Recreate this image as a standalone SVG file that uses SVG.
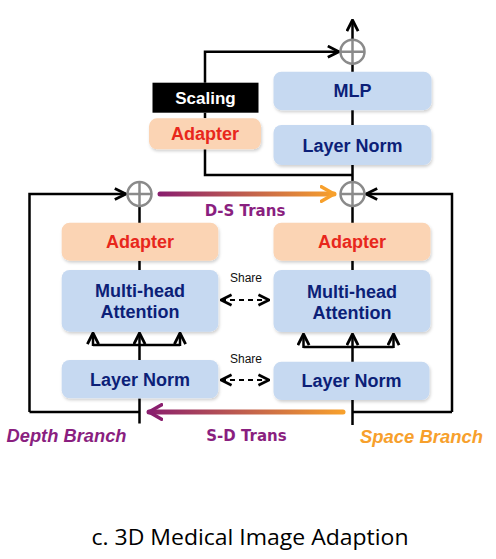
<svg xmlns="http://www.w3.org/2000/svg" width="496" height="559" viewBox="0 0 496 559">
<defs>
<style>
.ln{fill:none;stroke:#000;stroke-width:2.5}
.blue{fill:#c6d9f1}
.peach{fill:#fbd4b4}
.bt{font-family:"Liberation Sans",Arial,sans-serif;font-weight:bold;font-size:18px;fill:#0c1f78;text-anchor:middle}
.rt{font-family:"Liberation Sans",Arial,sans-serif;font-weight:bold;font-size:18px;fill:#e8271c;text-anchor:middle}
.sh{font-family:"Liberation Sans",Arial,sans-serif;font-size:12px;fill:#111;text-anchor:middle}
.tr{font-family:"DejaVu Sans",sans-serif;font-weight:bold;font-size:15px;fill:#8a1f80;text-anchor:middle}
.br{font-family:"Liberation Sans",Arial,sans-serif;font-weight:bold;font-style:italic;font-size:18px}
.circ{fill:#fff;stroke:#8a8a8a;stroke-width:2.5}
</style>
<marker id="ah" viewBox="0 0 10 10" refX="9" refY="5" markerWidth="5.6" markerHeight="5.6" orient="auto-start-reverse" markerUnits="strokeWidth">
<path d="M1,1 L9,5 L1,9" fill="none" stroke="#000" stroke-width="2"/>
</marker>
<marker id="ahd" viewBox="0 0 10 10" refX="9" refY="5" markerWidth="6" markerHeight="6" orient="auto-start-reverse" markerUnits="strokeWidth">
<path d="M1,1 L9,5 L1,9" fill="none" stroke="#000" stroke-width="2"/>
</marker>
<marker id="aho" viewBox="0 0 10 10" refX="8" refY="5" markerWidth="3.6" markerHeight="3.6" orient="auto" markerUnits="strokeWidth">
<path d="M1,1 L8,5 L1,9" fill="none" stroke="#f7a02c" stroke-width="2" stroke-linecap="round" stroke-linejoin="round"/>
</marker>
<marker id="ahp" viewBox="0 0 10 10" refX="8" refY="5" markerWidth="3.6" markerHeight="3.6" orient="auto" markerUnits="strokeWidth">
<path d="M1,1 L8,5 L1,9" fill="none" stroke="#8a1f6e" stroke-width="2" stroke-linecap="round" stroke-linejoin="round"/>
</marker>
<linearGradient id="gds" gradientUnits="userSpaceOnUse" x1="160" y1="0" x2="335" y2="0">
<stop offset="0" stop-color="#8a1f6e"/>
<stop offset="1" stop-color="#f7a02c"/>
</linearGradient>
<linearGradient id="gsd" gradientUnits="userSpaceOnUse" x1="343" y1="0" x2="148" y2="0">
<stop offset="0" stop-color="#f7a02c"/>
<stop offset="1" stop-color="#8a1f6e"/>
</linearGradient>
<filter id="sd" x="-10%" y="-20%" width="120%" height="150%">
<feDropShadow dx="1" dy="2" stdDeviation="1.5" flood-color="#000" flood-opacity="0.18"/>
</filter>
</defs>
<rect width="496" height="559" fill="#fff"/>

<g id="connectors">
<path class="ln" d="M352.5,39.5 V20" marker-end="url(#ah)"/>
<path class="ln" d="M205,82.7 V51.7 H339" marker-end="url(#ah)"/>
<path class="ln" d="M352.5,63.7 V72 M352.5,110 V125 M352.5,165 V182"/>
<path class="ln" d="M205,112.7 V118.3 M205,149.3 V175 H352.5"/>
<path class="ln" d="M139.5,206 V223 M139.5,260.7 V270 M352.5,206 V223 M352.5,260.7 V270"/>
<path class="ln" d="M29.5,412 V194 H126" marker-end="url(#ah)"/>
<path class="ln" d="M452,412 V194 H366" marker-end="url(#ah)"/>
<path class="ln" d="M139.5,360 V345"/>
<path class="ln" d="M93,345 H180"/>
<path class="ln" d="M93,346 V333" marker-end="url(#ah)"/>
<path class="ln" d="M139.5,346 V333" marker-end="url(#ah)"/>
<path class="ln" d="M180,346 V333" marker-end="url(#ah)"/>
<path class="ln" d="M352.5,362 V347"/>
<path class="ln" d="M303.5,347 H393.5"/>
<path class="ln" d="M303.5,348 V334" marker-end="url(#ah)"/>
<path class="ln" d="M352.5,348 V334" marker-end="url(#ah)"/>
<path class="ln" d="M393.5,348 V334" marker-end="url(#ah)"/>
<path class="ln" d="M139.5,398.5 V423.5 M29.5,412 H139.5"/>
<path class="ln" d="M352.5,400 V425 M352.5,412 H452"/>
<path d="M221,300 H269" fill="none" stroke="#000" stroke-width="2.2" stroke-dasharray="5,4" marker-start="url(#ahd)" marker-end="url(#ahd)"/>
<path d="M221,380 H269" fill="none" stroke="#000" stroke-width="2.2" stroke-dasharray="5,4" marker-start="url(#ahd)" marker-end="url(#ahd)"/>
<path d="M160,194 H334" fill="none" stroke="url(#gds)" stroke-width="5" stroke-linecap="round" marker-end="url(#aho)"/>
<path d="M343,412 H149" fill="none" stroke="url(#gsd)" stroke-width="5" stroke-linecap="round" marker-end="url(#ahp)"/>
</g>

<g id="sum-top">
<circle class="circ" cx="352.5" cy="51.7" r="12"/>
<path d="M340.5,51.7 H364.5 M352.5,39.7 V63.7" stroke="#8a8a8a" stroke-width="2.5"/>
</g>
<g id="sum-left">
<circle class="circ" cx="139.5" cy="194" r="12"/>
<path d="M127.5,194 H151.5 M139.5,182 V206" stroke="#8a8a8a" stroke-width="2.5"/>
</g>
<g id="sum-right">
<circle class="circ" cx="352.5" cy="194" r="12"/>
<path d="M340.5,194 H364.5 M352.5,182 V206" stroke="#8a8a8a" stroke-width="2.5"/>
</g>

<g id="scaling">
<rect x="152.5" y="82.7" width="106" height="30" fill="#000"/>
<text x="205.5" y="104" font-family="Liberation Sans, Arial, sans-serif" font-weight="bold" font-size="17" fill="#fff" text-anchor="middle">Scaling</text>
</g>
<g id="adapter-top">
<rect class="peach" x="149" y="118.3" width="112" height="31" rx="8" filter="url(#sd)"/>
<text class="rt" x="205" y="140">Adapter</text>
</g>
<g id="mlp">
<rect class="blue" x="273.5" y="71.7" width="158" height="38.5" rx="8" filter="url(#sd)"/>
<text class="bt" x="352.5" y="97">MLP</text>
</g>
<g id="layernorm-top">
<rect class="blue" x="273.5" y="125" width="158" height="40" rx="8" filter="url(#sd)"/>
<text class="bt" x="352.5" y="151.5">Layer Norm</text>
</g>

<g id="adapter-left">
<rect class="peach" x="61.7" y="222.7" width="156.6" height="38" rx="8" filter="url(#sd)"/>
<text class="rt" x="140" y="248">Adapter</text>
</g>
<g id="adapter-right">
<rect class="peach" x="273.5" y="222.7" width="157" height="38" rx="8" filter="url(#sd)"/>
<text class="rt" x="352" y="248">Adapter</text>
</g>
<g id="mha-left">
<rect class="blue" x="61.7" y="270" width="156.6" height="61.7" rx="8" filter="url(#sd)"/>
<text class="bt" x="140" y="297">Multi-head</text>
<text class="bt" x="140" y="318">Attention</text>
</g>
<g id="mha-right">
<rect class="blue" x="273.5" y="270" width="157" height="62" rx="8" filter="url(#sd)"/>
<text class="bt" x="352" y="298">Multi-head</text>
<text class="bt" x="352" y="319">Attention</text>
</g>
<g id="layernorm-left">
<rect class="blue" x="61.7" y="360" width="156.6" height="38.3" rx="8" filter="url(#sd)"/>
<text class="bt" x="140" y="385.5">Layer Norm</text>
</g>
<g id="layernorm-right">
<rect class="blue" x="273.5" y="361.7" width="156" height="38.3" rx="8" filter="url(#sd)"/>
<text class="bt" x="351.5" y="387">Layer Norm</text>
</g>

<g id="labels">
<text class="sh" x="246" y="282">Share</text>
<text class="sh" x="246" y="363">Share</text>
<text class="tr" x="245" y="215.5">D-S Trans</text>
<text class="tr" x="246.5" y="440.5">S-D Trans</text>
<text class="br" x="6.5" y="441.5" fill="#8a1f80" textLength="120" lengthAdjust="spacingAndGlyphs">Depth Branch</text>
<text class="br" x="360" y="442.5" fill="#f7a02c" textLength="123" lengthAdjust="spacingAndGlyphs">Space Branch</text>
<text x="250" y="545" font-family="Open Sans, Noto Sans, sans-serif" font-size="21" fill="#000" text-anchor="middle" textLength="317" lengthAdjust="spacingAndGlyphs">c. 3D Medical Image Adaption</text>
</g>
</svg>
